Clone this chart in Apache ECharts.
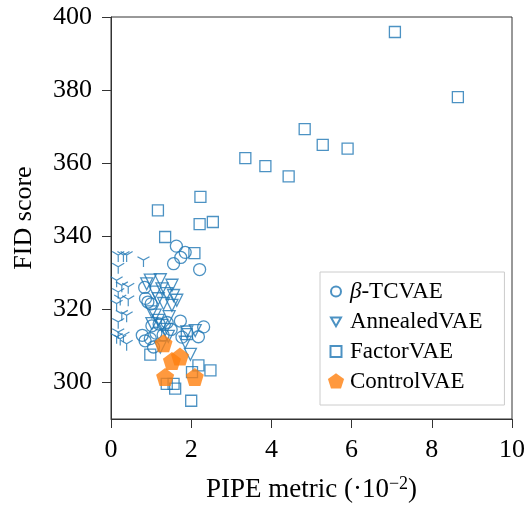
<!DOCTYPE html>
<html><head><meta charset="utf-8">
<script src="https://cdn.jsdelivr.net/npm/echarts@6/dist/echarts.min.js"></script>
<style>html,body{margin:0;padding:0;background:#fff}#c{width:528px;height:506px}</style>
</head><body><div id="c"></div>
<script>
// Data: [PIPE metric (x1e-2), FID score]
const betaTCVAE = [[1.63,337.3],[1.85,335.6],[1.74,334.2],[1.56,332.5],[2.21,330.9],[0.84,326],[0.86,323],[0.92,322],[1.0,321.5],[1.73,316.8],[2.31,315.2],[1.40,316.4],[1.2,316],[1.02,315.5],[0.78,312.9],[0.98,312],[1.77,312.4],[2.18,312.5],[0.85,311.4],[1.06,309.7],[1.3,313],[1.12,313.5],[1.5,314.5]];
const annealedVAE = [[0.98,328],[1.23,328.1],[1.52,326.6],[1.27,325.6],[0.89,327],[1.1,324.7],[1.39,324.3],[1.56,323.8],[1.64,322.5],[1.52,321.1],[1.31,321.6],[1.18,322.9],[1.02,319.3],[1.1,318.4],[1.18,317],[1.02,316.1],[1.27,315.6],[1.85,311],[1.98,307.7],[1.43,312.6],[1.23,309.7],[1.89,313.8],[2.1,314.2],[1.35,314.5],[1.45,318]];
const factorVAE = [[7.08,395.9],[8.65,378.1],[4.83,369.3],[5.28,365],[5.9,364],[3.35,361.4],[3.85,359.2],[4.43,356.4],[2.23,350.8],[1.17,347.1],[2.21,343.3],[2.54,343.9],[1.35,339.8],[2.08,335.4],[1.89,313.2],[0.98,307.6],[2.18,304.7],[2.48,303.3],[2.02,302.8],[1.39,299.6],[1.56,299.6],[1.6,298.3],[2.0,295]];
const otherVAE = [[0.18,334.4],[0.31,334.4],[0.39,334.4],[0.81,333],[0.18,331.2],[0.14,327.5],[0.27,326.1],[0.43,325.7],[0.18,324.3],[0.23,322.5],[0.43,322.3],[0.14,321.1],[0.39,317.9],[0.27,318.3],[0.18,316.1],[0.18,313.3],[0.31,312.4],[0.23,311.5],[0.39,310.1],[0.14,312]];
const controlVAE = [[1.31,310.7],[1.72,307.1],[1.52,305.9],[1.35,301.5],[2.09,301.5]];
const xTicks = [0,2,4,6,8,10];
const yTicks = [300,320,340,360,380,400];
const legendNames = ['β-TCVAE','AnnealedVAE','FactorVAE','ControlVAE'];

const blue = '#1f77b4', orange = '#ff7f0e';
const font = "'Liberation Serif', 'Times New Roman', serif";
const pent = 'path://M50,0 L97.55,34.55 L79.39,90.45 L20.61,90.45 L2.45,34.55 Z';
const tri = 'path://M6.7,25 L50,50 L93.3,25 M50,50 L50,100';
const hollow = {color:'rgba(255,255,255,0)', borderColor:blue, borderWidth:1.3};
// legend icons padded inside an 18x18 box so that they keep their own sizes
const pad = 'path://M0,0 M18,18 ';
const legendIcons = [
  pad + 'M4,9 A5,5 0 1 1 14,9 A5,5 0 1 1 4,9 Z',
  pad + 'M4,5 L14,5 L9,13.7 Z',
  pad + 'M3.5,3.5 L14.5,3.5 L14.5,14.5 L3.5,14.5 Z',
  pad + 'M9,0.8 L17.1,6.6 L14,16.1 L4,16.1 L0.9,6.6 Z'
];

const chart = echarts.init(document.getElementById('c'), null, {renderer:'canvas'});
chart.setOption({
  animation:false,
  grid:{left:111, right:16, top:17, bottom:87, show:true, borderColor:'#333', borderWidth:1, outerBoundsMode:'none', containLabel:false},
  xAxis:{type:'value', min:0, max:10, interval:2,
    name:'{a|PIPE metric (·10}{s|−2}{a|)}', nameLocation:'middle', nameGap:56,
    nameTextStyle:{rich:{a:{fontFamily:font,fontSize:27,color:'#000'}, s:{fontFamily:font,fontSize:18,color:'#000',verticalAlign:'top',padding:[0,0,12,0]}}},
    axisLine:{lineStyle:{color:'#333',width:1}}, axisTick:{length:9,lineStyle:{color:'#333'}},
    axisLabel:{fontFamily:font,fontSize:26,color:'#000',margin:18, customValues:xTicks},
    splitLine:{show:false}},
  yAxis:{type:'value', min:290, max:400,
    name:'FID score', nameLocation:'middle', nameGap:74, nameRotate:90,
    nameTextStyle:{fontFamily:font,fontSize:26,color:'#000'},
    axisLine:{show:true,lineStyle:{color:'#333',width:1}},
    axisTick:{show:true,length:9,lineStyle:{color:'#333'},customValues:yTicks},
    axisLabel:{fontFamily:font,fontSize:26,color:'#000',margin:19,customValues:yTicks},
    splitLine:{show:false}},
  legend:{orient:'vertical', left:320, top:272, padding:[8,22,12,6], itemGap:7,
    itemWidth:18, itemHeight:18, backgroundColor:'#fff', borderColor:'#ccc', borderWidth:1,
    textStyle:{fontFamily:font,fontSize:23,color:'#000', rich:{i:{fontFamily:font,fontSize:23,fontStyle:'italic',color:'#000'}, n:{fontFamily:font,fontSize:23,color:'#000'}}},
    formatter:function(n){return n==='β-TCVAE' ? '{i|β}{n|-TCVAE}' : n;},
    data:legendNames.map((n,i)=>({name:n, icon:legendIcons[i]}))},
  series:[
    {name:'other', type:'scatter', data:otherVAE, symbol:tri, symbolKeepAspect:true, symbolSize:12, itemStyle:{color:'rgba(0,0,0,0)',borderColor:blue,borderWidth:1.2}},
    {name:'β-TCVAE', type:'scatter', data:betaTCVAE, symbol:'circle', symbolSize:12, itemStyle:hollow},
    {name:'AnnealedVAE', type:'scatter', data:annealedVAE, symbol:'triangle', symbolRotate:180, symbolSize:12, itemStyle:hollow},
    {name:'FactorVAE', type:'scatter', data:factorVAE, symbol:'rect', symbolSize:11, itemStyle:hollow},
    {name:'ControlVAE', type:'scatter', data:controlVAE, symbol:pent, symbolSize:18, itemStyle:{color:orange}}
  ]
});
</script></body></html>
